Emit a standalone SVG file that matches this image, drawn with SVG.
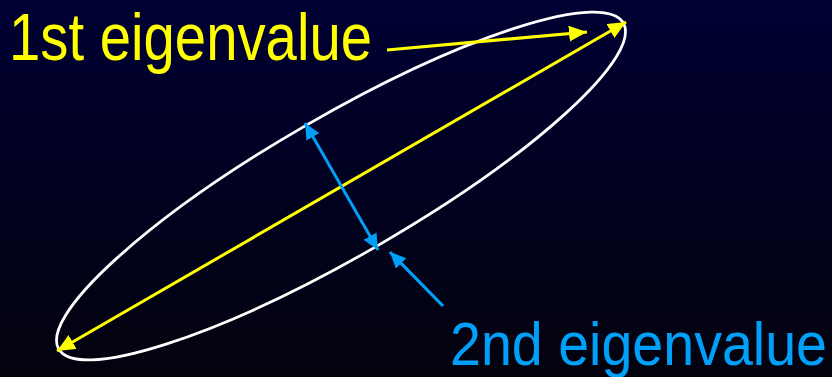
<svg xmlns="http://www.w3.org/2000/svg" width="832" height="377" viewBox="0 0 832 377">
  <defs>
    <linearGradient id="bg" x1="0" y1="0" x2="0" y2="1">
      <stop offset="0" stop-color="#000033"/>
      <stop offset="1" stop-color="#03030e"/>
    </linearGradient>
    <marker id="ayl" markerUnits="userSpaceOnUse" markerWidth="19" markerHeight="17" refX="18" refY="8" orient="auto-start-reverse">
      <path d="M0,0 L18,8 L0,16 z" fill="#ffff00"/>
    </marker>
    <marker id="abl" markerUnits="userSpaceOnUse" markerWidth="17" markerHeight="16" refX="16" refY="7.5" orient="auto-start-reverse">
      <path d="M0,0 L16,7.5 L0,15 z" fill="#00a0f8"/>
    </marker>
    <style>
      .lab { font-family: "Liberation Sans", Arial, sans-serif; }
      .yl { fill: #ffff00; }
      .bl { fill: #00a0f8; }
      .ylin { stroke: #ffff00; fill: none; }
      .blin { stroke: #00a0f8; fill: none; }
    </style>
  </defs>
  <rect x="0" y="0" width="832" height="377" fill="url(#bg)"/>

  <g id="ellipse">
    <ellipse cx="341" cy="186" rx="326" ry="70" transform="rotate(-30 341 186)" fill="none" stroke="#ffffff" stroke-width="2.8"/>
  </g>

  <g id="connectors">
    <line class="ylin" x1="57" y1="351" x2="626" y2="22" stroke-width="3" marker-start="url(#ayl)" marker-end="url(#ayl)"/>
    <line class="blin" x1="305" y1="123" x2="378" y2="250" stroke-width="3" marker-start="url(#abl)" marker-end="url(#abl)"/>
    <line class="ylin" x1="387" y1="50" x2="587" y2="32" stroke-width="3.2" marker-end="url(#ayl)"/>
    <line class="blin" x1="443" y1="306" x2="390" y2="252" stroke-width="3.2" marker-end="url(#abl)"/>
  </g>

  <g id="label1">
    <text class="lab yl" x="9" y="60" font-size="66" textLength="363" lengthAdjust="spacingAndGlyphs">1st eigenvalue</text>
  </g>
  <g id="label2">
    <text class="lab bl" x="450" y="365" font-size="62" textLength="377" lengthAdjust="spacingAndGlyphs">2nd eigenvalue</text>
  </g>
</svg>
